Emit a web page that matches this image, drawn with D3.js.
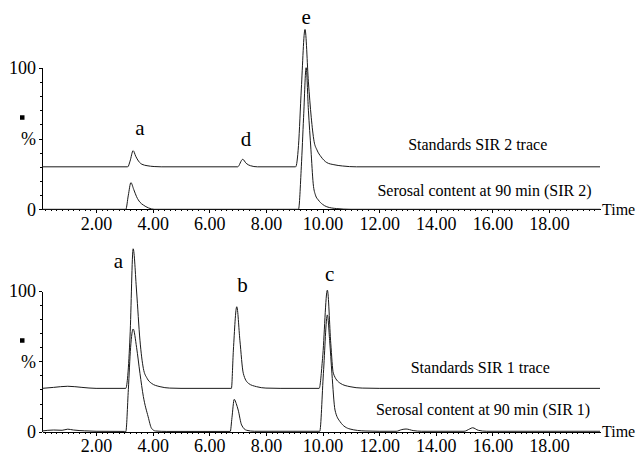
<!DOCTYPE html>
<meta charset="utf-8">
<style>
  body { margin: 0; background: #fff; }
  svg, svg text { font-family: "Liberation Serif", "Times New Roman", serif; }
  .trace { fill: none; stroke: #1a1a1a; stroke-width: 1; }
  .axis path, .axis line { stroke: #000; shape-rendering: crispEdges; }
  .axis text { fill: #000; font-size: 18px; }
</style>
<body>
<script src="https://cdn.jsdelivr.net/npm/d3@7/dist/d3.min.js"></script>
<script>
// [time (min), intensity (% of axis)]; standards traces sit on an offset
var sir2Standards = [[0.09, 30], [3.12, 30], [3.2, 34], [3.31, 41.4], [3.4, 37.5], [3.5, 34], [3.62, 31.8],
  [3.8, 30.8], [4.05, 30.2], [4.3, 30], [7.0, 30], [7.18, 35.3], [7.3, 32.5], [7.45, 30.8], [7.7, 30],
  [9.05, 30], [9.15, 45], [9.25, 85], [9.38, 127], [9.5, 90], [9.6, 65], [9.7, 48], [9.8, 42], [9.95, 37],
  [10.15, 33], [10.4, 31.5], [10.7, 30.6], [11.2, 30], [19.8, 30]];

var sir2Serosal = [[0.09, 0], [3.05, 0], [3.14, 10], [3.23, 18.8], [3.33, 14], [3.43, 8.9], [3.55, 5],
  [3.67, 3], [3.85, 1], [4.05, 0], [9.15, 0], [9.25, 30], [9.33, 65], [9.42, 100], [9.5, 70], [9.59, 42],
  [9.67, 18], [9.75, 10], [9.85, 6.6], [10.0, 3.5], [10.15, 1.8], [10.5, 0.5], [11, 0], [19.8, 0]];

var sir1Standards = [[0.09, 30.8], [0.5, 31.5], [1.0, 32.3], [1.5, 31.5], [2.0, 30.8], [3.05, 30.8],
  [3.12, 40], [3.2, 68], [3.31, 130], [3.43, 100], [3.55, 65], [3.67, 45], [3.8, 38], [3.95, 34.5],
  [4.26, 32], [4.6, 31], [5.0, 30.8], [6.78, 30.8], [6.85, 58], [6.97, 88.8], [7.08, 65], [7.2, 41.5],
  [7.38, 34.4], [7.67, 32], [8.0, 31], [8.5, 30.8], [9.88, 30.8], [10.0, 52], [10.17, 100.6], [10.29, 62.8],
  [10.38, 41.6], [10.62, 34.5], [10.97, 32], [11.4, 31], [12, 30.8], [19.8, 30.8]];

var sir1Serosal = [[0.09, 0.5], [0.5, 1.2], [0.8, 1], [1.0, 1.8], [1.2, 1.2], [1.6, 0.6], [2.0, 0.3],
  [3.0, 0.2], [3.05, 0], [3.14, 30], [3.22, 60], [3.31, 73], [3.43, 60], [3.55, 41.5], [3.67, 25],
  [3.84, 10.6], [3.96, 2.4], [4.1, 0.5], [4.5, 0.2], [6.74, 0.2], [6.8, 10], [6.88, 23], [6.95, 20],
  [7.02, 15.4], [7.14, 4.8], [7.32, 1], [7.6, 0.3], [9.9, 0.3], [10.03, 41.5], [10.17, 83], [10.25, 65],
  [10.33, 41.6], [10.44, 15.4], [10.62, 7.1], [10.97, 1.9], [11.5, 0.5], [12, 0.3], [12.6, 0.3],
  [12.8, 1.5], [12.95, 1.9], [13.2, 0.8], [13.5, 0.3], [15.0, 0.3], [15.2, 2], [15.3, 2.8], [15.5, 1],
  [15.8, 0.3], [19.8, 0.3]];

// peak letters: [letter, time, intensity]
var sir2Peaks = [["a", 3.55, 52.5], ["d", 7.3, 44.9], ["e", 9.42, 130.9]];
var sir1Peaks = [["a", 2.79, 116], ["b", 7.17, 99], ["c", 10.25, 107.3]];

// trace captions: [text, centre time, intensity]
var sir2Captions = [["Standards SIR 2 trace", 15.48, 42.2], ["Serosal content at 90 min (SIR 2)", 15.72, 9.4]];
var sir1Captions = [["Standards SIR 1 trace", 15.57, 41.5], ["Serosal content at 90 min (SIR 1)", 15.67, 11.9]];

var timeTicks = [2, 4, 6, 8, 10, 12, 14, 16, 18];
var pctTicks = [0, 50, 100];

var width = 639, height = 455;

var svg = d3.select("body").append("svg")
  .attr("width", width)
  .attr("height", height);

var x = d3.scaleLinear().domain([0.09, 19.8]).range([42, 600]);

var panels = [
  { range: [209.3, 67.7], traces: [sir2Standards, sir2Serosal], peaks: sir2Peaks, captions: sir2Captions },
  { range: [431.7, 291], traces: [sir1Standards, sir1Serosal], peaks: sir1Peaks, captions: sir1Captions }
];

var serifFont = '"Liberation Serif", "Times New Roman", serif';

// d3 axes put their own sans-serif font on the group; replace it
function serif(a) {
  a.attr("font-family", serifFont).attr("font-size", 18);
  a.selectAll("text").style("font-family", serifFont);
  a.select(".domain").remove();
}

panels.forEach(function (p) {
  var y = d3.scaleLinear().domain([0, 100]).range(p.range);
  var g = svg.append("g");

  // x axis: minor ticks every 0.2 min, labelled every 2
  g.append("g")
    .attr("class", "axis")
    .attr("transform", "translate(0," + y(0) + ")")
    .call(d3.axisBottom(x).tickValues(d3.range(1, 99).map(function (i) { return i / 5; }))
      .tickSize(2).tickSizeOuter(0).tickFormat(""));

  g.append("g")
    .attr("class", "axis")
    .attr("transform", "translate(0," + y(0) + ")")
    .call(d3.axisBottom(x).tickValues(timeTicks).tickSize(4).tickSizeOuter(0)
      .tickPadding(4).tickFormat(d3.format(".2f")))
    .call(serif);

  // y axis
  g.append("g")
    .attr("class", "axis")
    .attr("transform", "translate(" + x.range()[0] + ",0)")
    .call(d3.axisLeft(y).tickValues([10, 20, 30, 40, 60, 70, 80, 90]).tickSize(2).tickSizeOuter(0).tickFormat(""));

  g.append("g")
    .attr("class", "axis")
    .attr("transform", "translate(" + x.range()[0] + ",0)")
    .call(d3.axisLeft(y).tickValues(pctTicks).tickSize(3).tickSizeOuter(0).tickPadding(3)
      .tickFormat(function (d) { return d === 50 ? "%" : d; }))
    .call(serif);

  // little black marker above the % sign
  g.append("rect")
    .attr("x", 20)
    .attr("y", y(65) - 2)
    .attr("width", 4.5)
    .attr("height", 4.5)
    .attr("fill", "#000");

  g.append("text")
    .attr("x", x.range()[1] + 2)
    .attr("y", y(0) + 5.5)
    .style("font-size", "16px")
    .text("Time");

  var line = d3.line()
    .x(function (d) { return x(d[0]); })
    .y(function (d) { return y(d[1]); })
    .curve(d3.curveMonotoneX);

  g.selectAll(".trace")
    .data(p.traces)
    .enter().append("path")
    .attr("class", "trace")
    .attr("d", line);

  g.selectAll(".peak")
    .data(p.peaks)
    .enter().append("text")
    .attr("class", "peak")
    .attr("x", function (d) { return x(d[1]); })
    .attr("y", function (d) { return y(d[2]); })
    .attr("text-anchor", "middle")
    .style("font-size", "21px")
    .text(function (d) { return d[0]; });

  g.selectAll(".caption")
    .data(p.captions)
    .enter().append("text")
    .attr("class", "caption")
    .attr("x", function (d) { return x(d[1]); })
    .attr("y", function (d) { return y(d[2]); })
    .attr("text-anchor", "middle")
    .style("font-size", "16px")
    .text(function (d) { return d[0]; });
});
</script>
</body>
